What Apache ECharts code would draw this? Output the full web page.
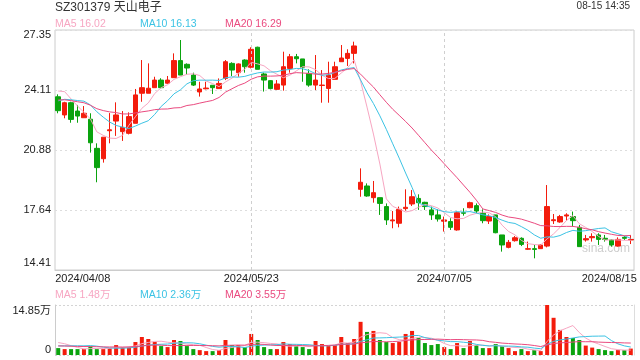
<!DOCTYPE html>
<html><head><meta charset="utf-8">
<script src="https://cdn.jsdelivr.net/npm/echarts@6/dist/echarts.min.js"></script>
<style>html,body{margin:0;padding:0;background:#fff}#c{width:640px;height:360px}</style>
</head><body><div id="c"></div>
<script>
const dates = ('2024/04/08 2024/04/09 2024/04/10 2024/04/11 2024/04/12 2024/04/15 2024/04/16 2024/04/17 2024/04/18 2024/04/19 ' +
  '2024/04/22 2024/04/23 2024/04/24 2024/04/25 2024/04/26 2024/04/29 2024/04/30 ' +
  '2024/05/06 2024/05/07 2024/05/08 2024/05/09 2024/05/10 2024/05/13 2024/05/14 2024/05/15 2024/05/16 2024/05/17 ' +
  '2024/05/20 2024/05/21 2024/05/22 2024/05/23 2024/05/24 2024/05/27 2024/05/28 2024/05/29 2024/05/30 2024/05/31 ' +
  '2024/06/03 2024/06/04 2024/06/05 2024/06/06 2024/06/07 2024/06/11 2024/06/12 2024/06/13 2024/06/14 ' +
  '2024/06/17 2024/06/18 2024/06/19 2024/06/20 2024/06/21 2024/06/24 2024/06/25 2024/06/26 2024/06/27 2024/06/28 ' +
  '2024/07/01 2024/07/02 2024/07/03 2024/07/04 2024/07/05 2024/07/08 2024/07/09 2024/07/10 2024/07/11 2024/07/12 ' +
  '2024/07/15 2024/07/16 2024/07/17 2024/07/18 2024/07/19 2024/07/22 2024/07/23 2024/07/24 2024/07/25 2024/07/26 ' +
  '2024/07/29 2024/07/30 2024/07/31 2024/08/01 2024/08/02 2024/08/05 2024/08/06 2024/08/07 2024/08/08 2024/08/09 ' +
  '2024/08/12 2024/08/13 2024/08/14 2024/08/15').split(' ');

const opens = [23.75,22.77,23.43,22.98,22.62,22.54,20.97,20.41,21.92,22.44,
  21.87,21.78,22.32,23.94,23.94,24.24,24.65,24.48,24.78,25.70,
  25.50,24.92,24.01,24.18,24.37,24.19,24.74,25.55,25.05,25.73,
  25.34,26.42,24.98,24.62,24.15,24.38,25.28,25.91,25.79,25.01,
  24.38,24.36,24.20,24.69,25.64,25.82,26.09,18.76,18.94,18.31,
  18.31,17.83,17.06,16.93,17.72,17.97,18.27,18.06,17.65,17.38,
  17.04,17.02,16.57,17.50,17.77,17.88,17.47,17.05,17.38,16.30,
  15.63,15.99,16.12,15.53,15.56,15.56,15.70,17.07,17.00,17.32,
  17.29,16.71,16.03,16.15,16.30,16.12,16.03,15.70,16.17,16.03];
const closes = [23.00,23.43,22.53,22.71,22.86,21.27,19.93,21.57,21.97,22.77,
  22.10,22.68,23.85,24.24,24.21,24.65,24.24,24.65,25.70,24.92,
  25.30,24.38,24.17,24.22,24.24,24.47,25.64,25.19,25.52,25.37,
  26.31,25.23,24.65,24.19,24.44,25.37,25.91,25.80,25.34,24.38,
  24.65,24.38,24.92,25.37,25.84,26.09,26.49,19.14,18.40,18.58,
  18.00,17.11,17.11,17.68,17.79,18.36,18.04,17.83,17.38,17.16,
  17.11,16.71,17.50,17.47,18.04,17.59,17.07,17.29,16.42,15.76,
  15.90,16.15,15.79,15.56,15.52,15.76,17.83,17.12,17.29,17.38,
  17.07,15.67,16.10,16.21,16.06,16.06,15.76,16.06,16.12,16.06];
const lows = [22.86,22.59,22.35,22.35,22.62,20.74,19.14,20.20,21.24,21.64,
  21.37,21.72,22.32,23.48,23.94,24.24,24.20,24.45,24.78,24.92,
  24.95,24.33,23.76,24.15,23.90,24.19,24.65,24.87,24.83,25.05,
  25.28,25.23,24.03,24.15,24.12,24.08,25.05,25.55,24.56,24.29,
  24.11,23.43,23.43,24.69,25.64,25.41,25.55,18.36,18.36,18.04,
  17.38,16.84,16.66,16.71,17.61,17.86,17.65,17.65,17.11,17.02,
  16.48,16.57,16.53,17.34,17.74,17.47,16.93,16.89,16.39,15.40,
  15.58,15.94,15.70,15.50,15.04,15.56,15.63,16.89,16.96,17.07,
  16.75,15.67,15.94,15.94,15.76,15.94,15.67,15.67,16.03,15.81];
const highs = [23.88,23.48,23.48,23.31,23.25,22.86,21.24,21.57,22.87,23.45,
  22.98,22.91,24.17,25.73,25.55,24.83,24.75,24.87,26.09,26.81,
  25.55,25.05,24.56,24.56,24.37,24.74,25.73,25.61,25.55,25.77,
  26.42,26.45,25.05,24.65,24.65,26.18,26.06,26.06,25.79,25.23,
  26.00,25.19,25.64,25.64,26.54,26.31,26.72,19.89,19.08,19.21,
  18.31,18.00,17.59,17.83,18.76,18.72,18.49,18.09,17.83,17.68,
  17.29,17.20,17.56,17.74,18.09,18.00,17.68,17.41,17.38,16.30,
  16.03,16.24,16.17,15.94,15.76,15.79,18.99,17.43,17.38,17.47,
  17.56,16.84,16.30,16.39,16.39,16.30,16.06,16.17,16.24,16.30];
// volume, unit 万 shares
const volumes = [2.05,1.75,1.75,1.75,1.75,2.55,1.75,1.75,2.05,2.95,
  2.35,2.35,3.85,5.35,4.75,3.85,2.65,2.35,4.45,4.15,
  2.65,1.75,1.45,1.15,1.15,1.45,4.45,2.95,2.95,2.35,
  6.25,4.45,2.35,1.75,1.75,3.85,3.25,2.65,2.35,1.75,
  4.15,3.25,2.65,2.95,5.35,3.55,4.75,9.85,6.85,7.15,
  4.45,3.85,3.55,3.85,6.25,7.15,5.05,3.55,2.95,3.25,
  2.35,1.75,3.55,2.05,4.15,2.95,2.05,2.05,3.25,2.65,
  2.05,1.15,1.75,1.15,1.45,1.15,14.85,11.05,7.45,5.35,
  5.05,4.45,2.80,2.20,1.75,1.45,1.15,1.45,1.45,1.90];
// trading days before 2024/04/08 (needed to start the moving averages)
const priorCloses = [23.2,23.5,23.8,24.0,23.9,23.7,23.6,23.4,23.5,23.6,
  22.6,22.8,23.1,23.2,23.3,23.6,24.5,24.6,24.6];
const priorVolumes = [2.5,3.0,2.8,2.4,2.9,2.6,2.7,2.5,2.9,2.7,
  1.5,1.8,1.6,1.9,1.7,3.5,4.6,4.4,3.95];

const yTickLabels = ['14.41','17.64','20.88','24.11','27.35'];
const volTickLabels = ['0','14.85万'];
const xLabelIndex = [0, 30, 60, 89];
const gridDates = ['2024/05/23', '2024/07/05'];
const titleText = 'SZ301379 天山电子';
const timeText = '08-15 14:35';
const priceLegend = ['MA5 16.02', 'MA10 16.13', 'MA20 16.29'];
const volLegend = ['MA5 1.48万', 'MA10 2.36万', 'MA20 3.55万'];
const maPeriods = [5, 10, 20];

const RED = '#f31c0c', GREEN = '#0aa30e';
const MA_COLORS = ['#f7a6c2', '#3cc3e4', '#ea4a7f'];
const FONT = 'Arial, "Liberation Sans", "Noto Sans CJK SC", sans-serif';

function movingAvg(prior, vals, n) {
  const all = prior.concat(vals);
  const off = prior.length;
  return vals.map((_, i) => {
    let s = 0;
    for (let k = 0; k < n; k++) s += all[off + i - k];
    return +(s / n).toFixed(3);
  });
}

const chart = echarts.init(document.getElementById('c'), null, {renderer: 'canvas'});

const candleData = dates.map((d, i) => [opens[i], closes[i], lows[i], highs[i]]);
const volData = volumes.map((v, i) => ({value: v, itemStyle: {color: closes[i] >= opens[i] ? RED : GREEN}}));

const vLine = {
  silent: true, symbol: ['none', 'none'], label: {show: false},
  lineStyle: {color: '#cfcfcf', type: [3, 3], width: 1},
  data: gridDates.map(d => ({xAxis: d}))
};

const series = [
  {
    type: 'candlestick', xAxisIndex: 0, yAxisIndex: 0, data: candleData, barWidth: 5,
    itemStyle: {color: RED, color0: GREEN, borderColor: RED, borderColor0: GREEN, borderWidth: 1},
    markLine: vLine, z: 2
  }
];
maPeriods.forEach((n, k) => {
  series.push({
    type: 'line', xAxisIndex: 0, yAxisIndex: 0, data: movingAvg(priorCloses, closes, n),
    showSymbol: false, symbol: 'none', lineStyle: {width: 1, color: MA_COLORS[k]}, z: 3, silent: true
  });
});
series.push({
  type: 'bar', xAxisIndex: 1, yAxisIndex: 1, data: volData, barWidth: 4, markLine: vLine, z: 2
});
maPeriods.forEach((n, k) => {
  series.push({
    type: 'line', xAxisIndex: 1, yAxisIndex: 1, data: movingAvg(priorVolumes, volumes, n),
    showSymbol: false, symbol: 'none', lineStyle: {width: 1, color: MA_COLORS[k]}, z: 3, silent: true
  });
});

const legendX = [55, 140, 225];
const graphics = [
  {type: 'text', x: 55, y: 8, style: {text: titleText, fill: '#333', font: '12px ' + FONT, textVerticalAlign: 'middle', verticalAlign: 'middle'}},
  {type: 'text', x: 630, y: 6, style: {text: timeText, fill: '#333', font: '10px ' + FONT, textAlign: 'right', align: 'right', textVerticalAlign: 'middle', verticalAlign: 'middle'}},
  {type: 'text', x: 582, y: 249, style: {text: 'sina.com', fill: '#cdcdcd', font: '12px ' + FONT, textVerticalAlign: 'middle', verticalAlign: 'middle'}}
];
priceLegend.forEach((t, k) => graphics.push({type: 'text', x: legendX[k], y: 24,
  style: {text: t, fill: MA_COLORS[k], font: '10.5px ' + FONT, textVerticalAlign: 'middle', verticalAlign: 'middle'}}));
volLegend.forEach((t, k) => graphics.push({type: 'text', x: legendX[k], y: 295,
  style: {text: t, fill: MA_COLORS[k], font: '10.5px ' + FONT, textVerticalAlign: 'middle', verticalAlign: 'middle'}}));

const option = {
  animation: false,
  backgroundColor: '#fff',
  grid: [
    {left: 55, right: 6, top: 30, bottom: 90, show: true, borderColor: '#cccccc', borderWidth: 1,
     backgroundColor: 'transparent', containLabel: false},
    {left: 55, right: 6, top: 305, bottom: 5, show: false, containLabel: false}
  ],
  xAxis: [
    {
      type: 'category', gridIndex: 0, data: dates, boundaryGap: true,
      axisLine: {show: true, lineStyle: {color: '#cccccc'}},
      axisTick: {show: false},
      splitLine: {show: false},
      axisLabel: {
        color: '#222', fontSize: 11, fontFamily: FONT, margin: 3,
        interval: (i) => xLabelIndex.indexOf(i) >= 0,
        alignMinLabel: 'left', alignMaxLabel: 'right', showMinLabel: true, showMaxLabel: true,
        formatter: (v, i) => {
          if (i === 0) return '{l|' + v + '}';
          if (i === dates.length - 1) return '{r|' + v + '}';
          return v;
        },
        rich: {
          l: {fontSize: 11, fontFamily: FONT, color: '#222', padding: [0, 0, 0, -3]},
          r: {fontSize: 11, fontFamily: FONT, color: '#222', padding: [0, -6, 0, 0]}
        }
      }
    },
    {
      type: 'category', gridIndex: 1, data: dates, boundaryGap: true,
      axisLine: {show: false}, axisTick: {show: false}, axisLabel: {show: false}, splitLine: {show: false}
    }
  ],
  yAxis: [
    {
      type: 'value', gridIndex: 0, min: 14.41, max: 27.35, interval: 3.235,
      axisLine: {show: false}, axisTick: {show: false},
      splitLine: {show: true, lineStyle: {color: '#dddddd', type: [2, 3], width: 1}},
      axisLabel: {
        color: '#222', fontSize: 11, fontFamily: FONT, margin: 4,
        formatter: (v, i) => {
          const t = yTickLabels[i];
          if (i === 0) return '{lo|' + t + '}';
          if (i === yTickLabels.length - 1) return '{hi|' + t + '}';
          return t;
        },
        rich: {
          lo: {fontSize: 11, fontFamily: FONT, color: '#222', padding: [0, 0, 14, 0]},
          hi: {fontSize: 11, fontFamily: FONT, color: '#222', padding: [10, 0, 0, 0]}
        }
      }
    },
    {
      type: 'value', gridIndex: 1, min: 0, max: 14.85, interval: 14.85,
      axisLine: {show: true, lineStyle: {color: '#cccccc'}}, axisTick: {show: false},
      splitLine: {show: true, lineStyle: {color: '#d4d4d4', type: [2, 2], width: 1}},
      axisLabel: {
        color: '#222', fontSize: 11, fontFamily: FONT, margin: 4,
        formatter: (v, i) => volTickLabels[i],
        verticalAlignMinLabel: 'bottom', verticalAlignMaxLabel: 'top'
      }
    },
    {
      type: 'value', gridIndex: 1, min: 0, max: 14.85, position: 'right',
      axisLine: {show: true, lineStyle: {color: '#dddddd'}}, axisTick: {show: false},
      axisLabel: {show: false}, splitLine: {show: false}
    }
  ],
  graphic: graphics,
  series: series
};
chart.setOption(option);
</script>
</body></html>
